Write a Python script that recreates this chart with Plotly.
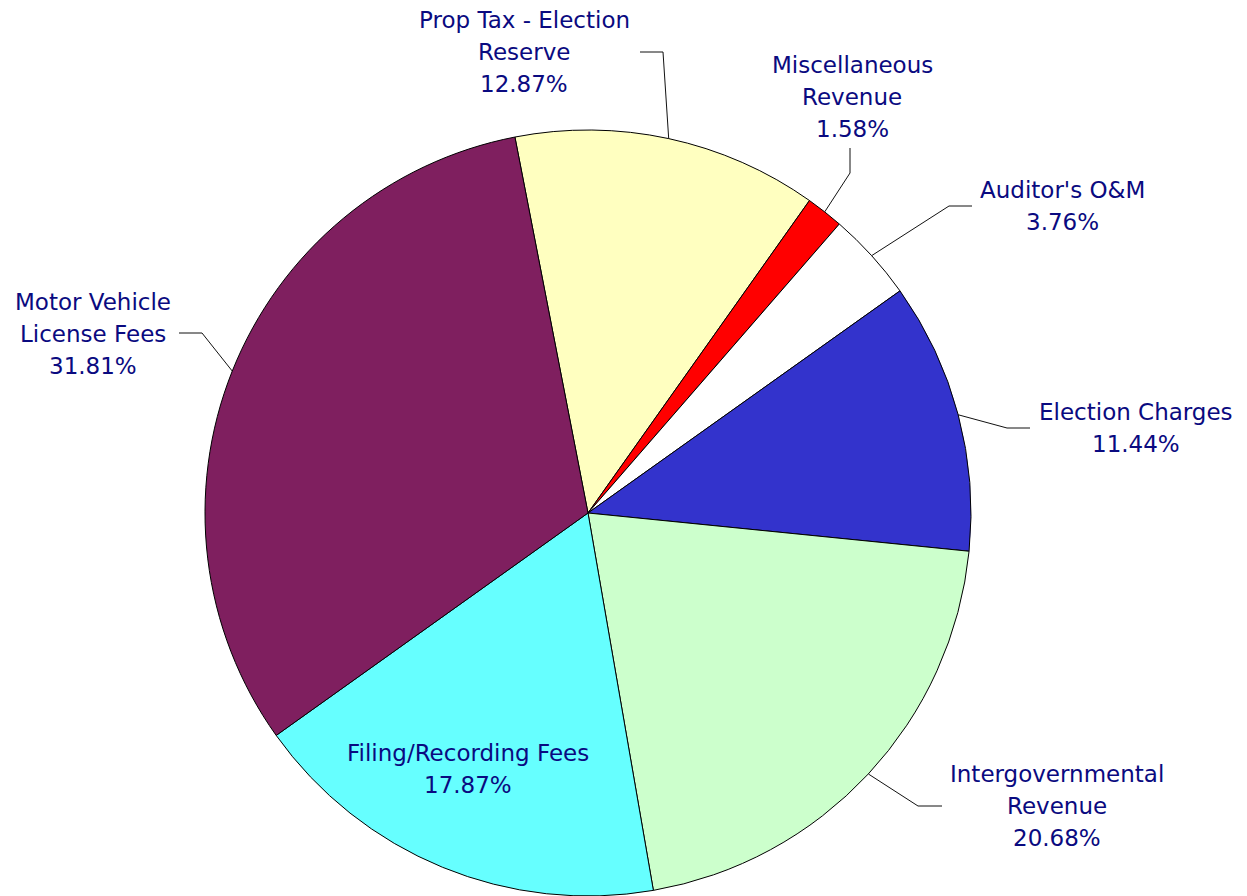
import math
import plotly.graph_objects as go

# ---------------- data ----------------
categories = [
    "Prop Tax - Election\nReserve",
    "Miscellaneous\nRevenue",
    "Auditor's O&amp;M",
    "Election Charges",
    "Intergovernmental\nRevenue",
    "Filing/Recording Fees",
    "Motor Vehicle\nLicense Fees",
]
values = [12.87, 1.58, 3.76, 11.44, 20.68, 17.87, 31.81]
colors = ["#FFFFC0", "#FF0000", "#FFFFFF", "#3333CC", "#CCFFCC", "#66FFFF", "#7F1F5F"]

# ---------------- layout settings ----------------
W, H = 1247, 896
CX, CY, R = 588, 513, 383          # pie centre / radius in pixels
ROTATION = -11                      # start angle of first slice (deg, clockwise from 12 o'clock)
FONT = dict(family="DejaVu Sans", size=23, color="#0A0A80")
LINE_GAP = 32

# label placement (pixels): text centre x, first-line centre y, leader elbow & end
label_layout = [
    dict(x=524, y=20, elbow=(663, 52), end=(640, 52)),
    dict(x=852, y=65, elbow=(850, 173), end=(850, 148)),
    dict(x=1062, y=190, elbow=(949, 206), end=(972, 206)),
    dict(x=1136, y=412, elbow=(1007, 428), end=(1030, 428)),
    dict(x=1057, y=774, elbow=(918, 806), end=(942, 806)),
    dict(x=468, y=753, elbow=None, end=None),
    dict(x=93, y=302, elbow=(202, 333), end=(179, 333)),
]


def px(x):
    return x / W


def py(y):
    return 1 - y / H


fig = go.Figure(go.Pie(
    labels=[c.replace("\n", " ").replace("&amp;", "&") for c in categories],
    values=values,
    sort=False,
    direction="clockwise",
    rotation=ROTATION,
    marker=dict(colors=colors, line=dict(color="black", width=1)),
    textinfo="none",
    hoverinfo="label+percent",
    showlegend=False,
    domain=dict(x=[(CX - R) / W, (CX + R) / W], y=[(H - CY - R) / H, (H - CY + R) / H]),
))

annotations = []
shapes = []
total = sum(values)
cum = 0.0
for cat, val, lay in zip(categories, values, label_layout):
    mid = ROTATION + (cum + val / 2) / total * 360
    cum += val
    lines = cat.split("\n") + [f"{val:.2f}%"]
    for i, ln in enumerate(lines):
        annotations.append(dict(
            x=px(lay["x"]), y=py(lay["y"] + i * LINE_GAP), xref="paper", yref="paper",
            text=ln, showarrow=False, xanchor="center", yanchor="middle", font=FONT,
        ))
    if lay["elbow"] is not None:
        a = math.radians(mid)
        sx = CX + R * math.sin(a)
        sy = CY - R * math.cos(a)
        ex, ey = lay["elbow"]
        tx, ty = lay["end"]
        path = f"M {px(sx)},{py(sy)} L {px(ex)},{py(ey)} L {px(tx)},{py(ty)}"
        shapes.append(dict(type="path", path=path, xref="paper", yref="paper",
                           line=dict(color="#111111", width=1)))

fig.update_layout(
    width=W, height=H,
    margin=dict(l=0, r=0, t=0, b=0),
    paper_bgcolor="white", plot_bgcolor="white",
    annotations=annotations, shapes=shapes,
)

fig.write_html("out.html", config={"displayModeBar": False},
               post_script="document.body.style.margin='0';")
